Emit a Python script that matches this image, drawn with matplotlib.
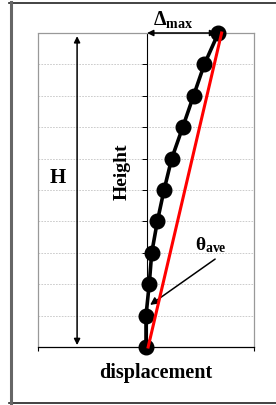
import matplotlib.pyplot as plt
from matplotlib.lines import Line2D
from matplotlib.patches import Rectangle

# storey heights and lateral displacement profile
heights = [0, 1, 2, 3, 4, 5, 6, 7, 8, 9, 10]
drift_x = [-0.01, -0.01, 0.02, 0.043, 0.095, 0.157, 0.228, 0.33, 0.43, 0.53, 0.66]

# average drift line (theta_ave)
avg_x = [0.01, 0.69]
avg_y = [0, 10]

plt.rcParams['font.family'] = ['Liberation Serif', 'DejaVu Serif']
plt.rcParams['mathtext.fontset'] = 'custom'
plt.rcParams['mathtext.rm'] = 'Liberation Serif:bold'
plt.rcParams['mathtext.it'] = 'Liberation Serif:bold'
plt.rcParams['mathtext.bf'] = 'Liberation Serif:bold'

fig = plt.figure(figsize=(2.76, 4.06), dpi=100)
ax = fig.add_axes([38 / 276, 58 / 406, 216 / 276, 314 / 406])

ax.set_xlim(-1.01, 0.99)
ax.set_ylim(0, 10)

# frame
for s in ['top', 'right']:
    ax.spines[s].set_color('#999999')
    ax.spines[s].set_linewidth(0.9)
ax.spines['left'].set_position(('data', 0))
ax.spines['left'].set_color('black')
ax.spines['left'].set_linewidth(0.8)
ax.spines['bottom'].set_color('black')
ax.spines['bottom'].set_linewidth(0.9)
ax.add_patch(Rectangle((0, 0), 0.002, 1, transform=ax.transAxes, fill=False,
                       edgecolor='#999999', lw=0.9, clip_on=False))

ax.set_yticks(heights)
ax.set_yticklabels([])
ax.tick_params(axis='y', direction='out', length=3.5, width=0.7, color='black')
ax.set_xticks([-1.01, 0.99])
ax.set_xticklabels([])
ax.tick_params(axis='x', direction='out', length=3, width=0.8)
ax.yaxis.grid(True, linestyle=(0, (2, 1.5)), color='#c4c4c4', lw=0.6)
ax.set_axisbelow(True)

ax.plot(drift_x, heights, color='black', lw=2.6, marker='o', ms=10.5, zorder=3,
        clip_on=False)
ax.plot(avg_x, avg_y, color='#ff0000', lw=2.2, zorder=4, clip_on=False)

arrow = dict(arrowstyle='<|-|>', color='black', lw=1.1, mutation_scale=9,
             shrinkA=0, shrinkB=0)
# H arrow
ax.annotate('', xy=(-0.648, 9.9), xytext=(-0.648, 0.06), arrowprops=arrow,
            annotation_clip=False)
# Delta max arrow
ax.annotate('', xy=(0.0, 10), xytext=(0.64, 10), arrowprops=arrow,
            annotation_clip=False, zorder=5)

ax.text(0.24, 10.3, r'$\Delta_{\rm max}$', fontsize=14.5, ha='center',
        va='baseline', clip_on=False)
ax.text(-0.824, 5.41, 'H', fontsize=15, fontweight='bold', ha='center', va='center')
ax.text(-0.23, 5.6, 'Height', fontsize=14, fontweight='bold', rotation=90,
        ha='center', va='center')
ax.text(0.444, 3.12, r'$\theta_{\rm ave}$', fontsize=14, ha='left', va='baseline')
ax.annotate('', xy=(0.028, 1.34), xytext=(0.63, 2.8),
            arrowprops=dict(arrowstyle='-|>', color='black', lw=1.1,
                            mutation_scale=11, shrinkA=0, shrinkB=0))

fig.text(156 / 276, 1 - 373 / 406, 'displacement', fontsize=14.5, fontweight='bold',
         ha='center', va='center')

# outer frame
fig.add_artist(Line2D([9 / 276, 1], [1 - 3.5 / 406] * 2, color='#222222', lw=1.2,
                      transform=fig.transFigure))
fig.add_artist(Line2D([9 / 276, 1], [1 - 403.5 / 406] * 2, color='#222222', lw=1.2,
                      transform=fig.transFigure))
fig.add_artist(Line2D([10.8 / 276] * 2, [1 - 3 / 406, 1 - 404 / 406], color='#666666',
                      lw=2.2, transform=fig.transFigure))

fig.savefig('out.png', dpi=100)
